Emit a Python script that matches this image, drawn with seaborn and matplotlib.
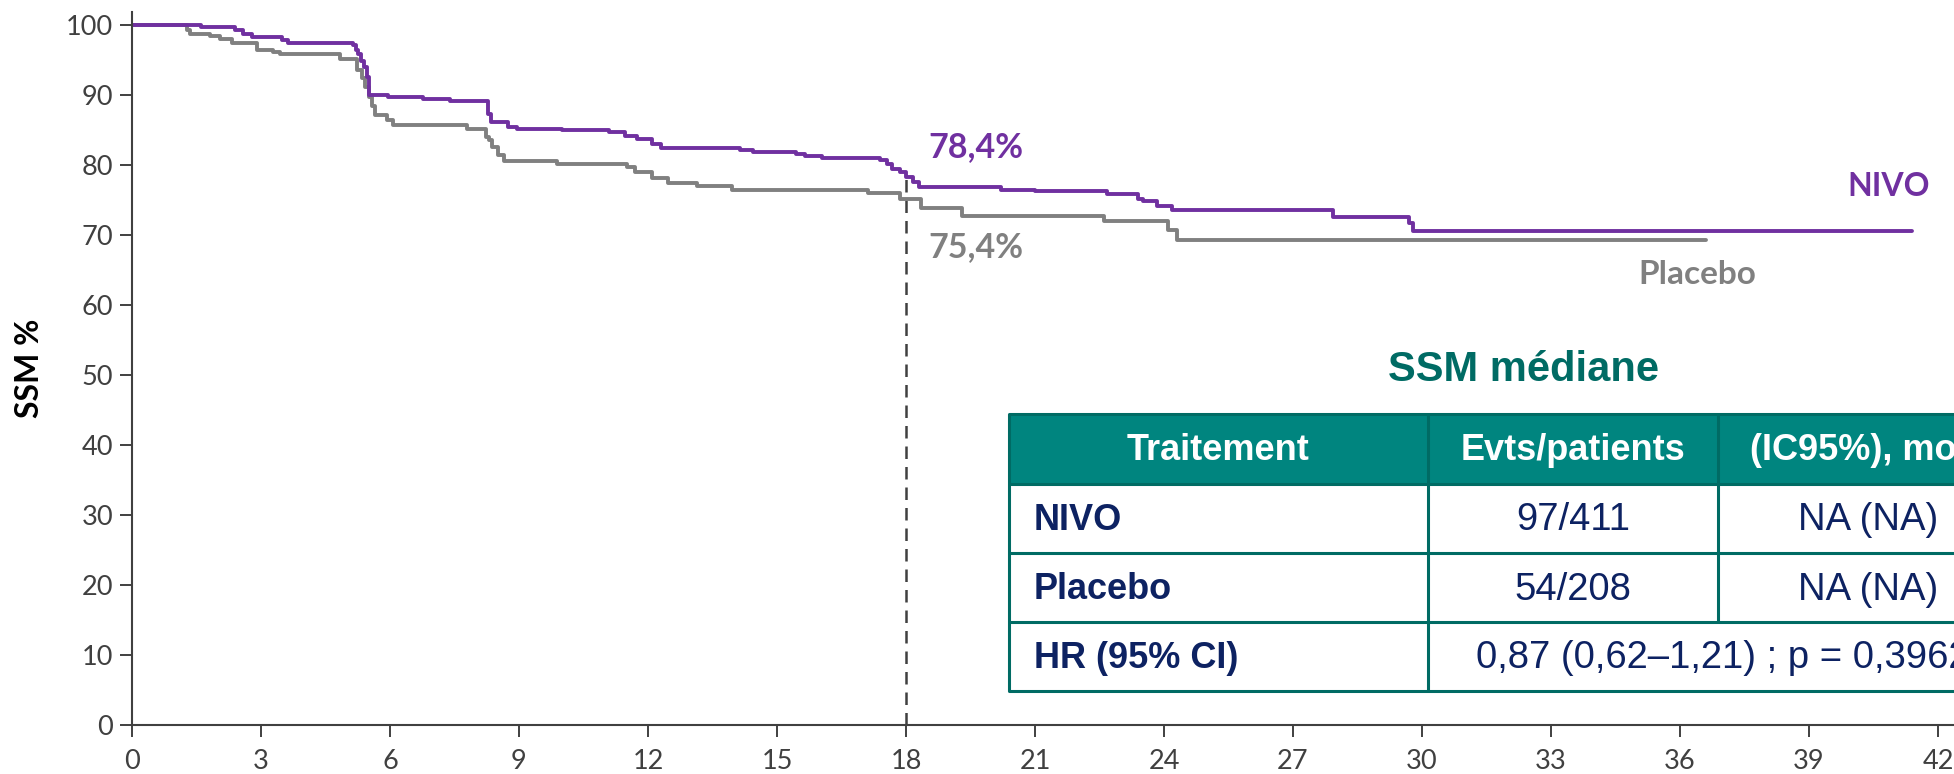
import numpy as np
import pandas as pd
import matplotlib
matplotlib.use("Agg")
import matplotlib.pyplot as plt
import seaborn as sns
from matplotlib.patches import Rectangle

# Courbes de Kaplan-Meier (SSM %)
nivo_mois = [0, 1.6, 2.4, 2.57, 2.78, 3.48, 3.63, 5.14, 5.22, 5.26, 5.33, 5.40, 5.46, 5.51,
             5.95, 6.77, 7.4, 8.27, 8.35, 8.74, 8.95, 10.0, 11.1, 11.47, 11.74, 12.1, 12.3,
             14.14, 14.45, 15.45, 15.65, 16.04, 17.4, 17.55, 17.67, 17.86, 18.0, 18.16, 18.3,
             20.2, 21.0, 22.67, 23.4, 23.5, 23.83, 24.18, 27.94, 29.7, 29.8, 41.4]
nivo_ssm = [100, 99.7, 99.3, 98.7, 98.3, 97.9, 97.5, 97.2, 96.5, 95.9, 94.9, 94.0, 92.6, 90.0,
            89.7, 89.4, 89.1, 87.3, 86.2, 85.5, 85.1, 85.0, 84.7, 84.2, 83.7, 83.0, 82.4,
            82.1, 81.9, 81.6, 81.3, 80.95, 80.7, 80.2, 79.5, 79.0, 78.3, 77.6, 76.8,
            76.5, 76.3, 75.8, 75.1, 74.8, 74.2, 73.6, 72.6, 71.7, 70.6, 70.6]

placebo_mois = [0, 1.27, 1.35, 1.81, 2.05, 2.32, 2.9, 3.29, 3.44, 4.84, 5.23, 5.35, 5.42, 5.5,
                5.58, 5.65, 5.92, 6.08, 7.78, 8.24, 8.3, 8.37, 8.5, 8.65, 9.88, 11.5, 11.7,
                12.1, 12.47, 13.13, 13.95, 17.12, 17.86, 18.36, 19.3, 22.6, 24.1, 24.3, 36.6]
placebo_ssm = [100, 99.3, 98.7, 98.4, 97.95, 97.4, 96.5, 96.2, 95.9, 95.2, 93.6, 92.5, 91.2, 89.7,
               88.5, 87.2, 86.4, 85.7, 85.2, 84.05, 83.6, 82.6, 81.4, 80.6, 80.1, 79.7, 79.05,
               78.2, 77.5, 77.0, 76.5, 75.95, 75.2, 73.9, 72.7, 72.0, 70.7, 69.3, 69.3]

landmark_mois = 18
landmark_pct = {"NIVO": 78.4, "Placebo": 75.4}
landmark_txt = {"NIVO": "78,4%", "Placebo": "75,4%"}

x_ticks = list(range(0, 43, 3))
y_ticks = list(range(0, 101, 10))

# Tableau SSM médiane
tab_titre = "SSM médiane"
tab_entetes = ["Traitement", "Evts/patients", "(IC95%), mois"]
tab_bras = ["NIVO", "Placebo"]
tab_evts = ["97/411", "54/208"]
tab_mediane = ["NA (NA)", "NA (NA)"]
tab_hr_label = "HR (95% CI)"
tab_hr = "0,87 (0,62–1,21) ; p = 0,3962"

VIOLET = "#7030A0"
GRIS = "#808080"
SARCELLE = "#00857F"
SARCELLE_FONCE = "#006B64"
MARINE = "#0D2262"
AXE = "#404040"

sns.set_theme(style="white")
plt.rcParams["font.family"] = ["Lato", "DejaVu Sans"]

W, H = 1954, 774
fig = plt.figure(figsize=(W / 100, H / 100), dpi=100)
ax = fig.add_axes([132 / W, 49 / H, 1 - 132 / W, (725 - 12) / H])

df = pd.concat([
    pd.DataFrame({"mois": placebo_mois, "ssm": placebo_ssm, "bras": "Placebo"}),
    pd.DataFrame({"mois": nivo_mois, "ssm": nivo_ssm, "bras": "NIVO"}),
])
sns.lineplot(data=df, x="mois", y="ssm", hue="bras", hue_order=["Placebo", "NIVO"],
             palette={"NIVO": VIOLET, "Placebo": GRIS}, estimator=None, sort=False,
             drawstyle="steps-post", linewidth=2.8, legend=False, ax=ax)

ax.vlines(landmark_mois, 0, landmark_pct["NIVO"], colors=AXE, linestyles=(0, (5, 3.2)),
          linewidth=1.8, zorder=1)

ax.set_xlim(0, (W - 132) / 43)
ax.set_ylim(0, 101.86)
ax.set_xticks(x_ticks)
ax.set_yticks(y_ticks)
ax.set_xlabel("")
ax.set_ylabel("SSM %", fontsize=23, fontweight="bold", color="black", labelpad=16)
ax.tick_params(axis="both", which="major", direction="out", length=8.6, width=1.4,
               color=AXE, labelcolor=AXE, labelsize=19.5, left=True, bottom=True)
ax.tick_params(axis="x", pad=8.5)
ax.tick_params(axis="y", pad=5)
for s in ["top", "right"]:
    ax.spines[s].set_visible(False)
for s in ["left", "bottom"]:
    ax.spines[s].set_color(AXE)
    ax.spines[s].set_linewidth(1.5)

# annotations des courbes
ax.text(18.53, 82.6, landmark_txt["NIVO"], color=VIOLET, fontsize=24.5, fontweight="bold",
        ha="left", va="center")
ax.text(18.53, 68.3, landmark_txt["Placebo"], color=GRIS, fontsize=24.5, fontweight="bold",
        ha="left", va="center")
ax.text(41.8, 76.9, "NIVO", color=VIOLET, fontsize=23, fontweight="bold", ha="right", va="center")
ax.text(36.4, 64.3, "Placebo", color=GRIS, fontsize=24, fontweight="bold", ha="center", va="center")

# tableau en pixels figure
tax = fig.add_axes([0, 0, 1, 1], zorder=5)
tax.set_xlim(0, W)
tax.set_ylim(H, 0)
tax.axis("off")
tax.patch.set_alpha(0)

cols = [1009, 1428, 1718, 2018]
rows = [414, 484, 553, 622, 691]
tfont = ["Liberation Sans", "DejaVu Sans"]
tsize_b = 26
tsize_r = 27.5

tax.text(1524, 370, tab_titre, color=SARCELLE_FONCE, fontsize=30, fontweight="bold",
         ha="center", va="center", family=tfont)

tax.add_patch(Rectangle((cols[0], rows[0]), cols[3] - cols[0], rows[1] - rows[0],
                        facecolor=SARCELLE, edgecolor="none"))
lw = 2.2
for y in rows:
    tax.plot([cols[0], cols[3]], [y, y], color=SARCELLE_FONCE, lw=lw, solid_capstyle="butt")
tax.plot([cols[0], cols[0]], [rows[0], rows[-1]], color=SARCELLE_FONCE, lw=lw)
tax.plot([cols[1], cols[1]], [rows[0], rows[-1]], color=SARCELLE_FONCE, lw=lw)
tax.plot([cols[2], cols[2]], [rows[0], rows[3]], color=SARCELLE_FONCE, lw=lw)

for i, txt in enumerate(tab_entetes):
    tax.text((cols[i] + cols[i + 1]) / 2, (rows[0] + rows[1]) / 2 + 2, txt, color="white",
             fontsize=tsize_b, fontweight="bold", ha="center", va="center", family=tfont)

for j, bras in enumerate(tab_bras):
    yc = (rows[j + 1] + rows[j + 2]) / 2 + 2
    tax.text(1034, yc, bras, color=MARINE, fontsize=tsize_b, fontweight="bold",
             ha="left", va="center", family=tfont)
    tax.text((cols[1] + cols[2]) / 2, yc, tab_evts[j], color=MARINE, fontsize=tsize_r,
             ha="center", va="center", family=tfont)
    tax.text((cols[2] + cols[3]) / 2, yc, tab_mediane[j], color=MARINE, fontsize=tsize_r,
             ha="center", va="center", family=tfont)

yc = (rows[3] + rows[4]) / 2 + 2
tax.text(1034, yc, tab_hr_label, color=MARINE, fontsize=tsize_b, fontweight="bold",
         ha="left", va="center", family=tfont)
tax.text((cols[1] + cols[3]) / 2, yc, tab_hr, color=MARINE, fontsize=tsize_r,
         ha="center", va="center", family=tfont)

fig.savefig("out.png", dpi=100)
